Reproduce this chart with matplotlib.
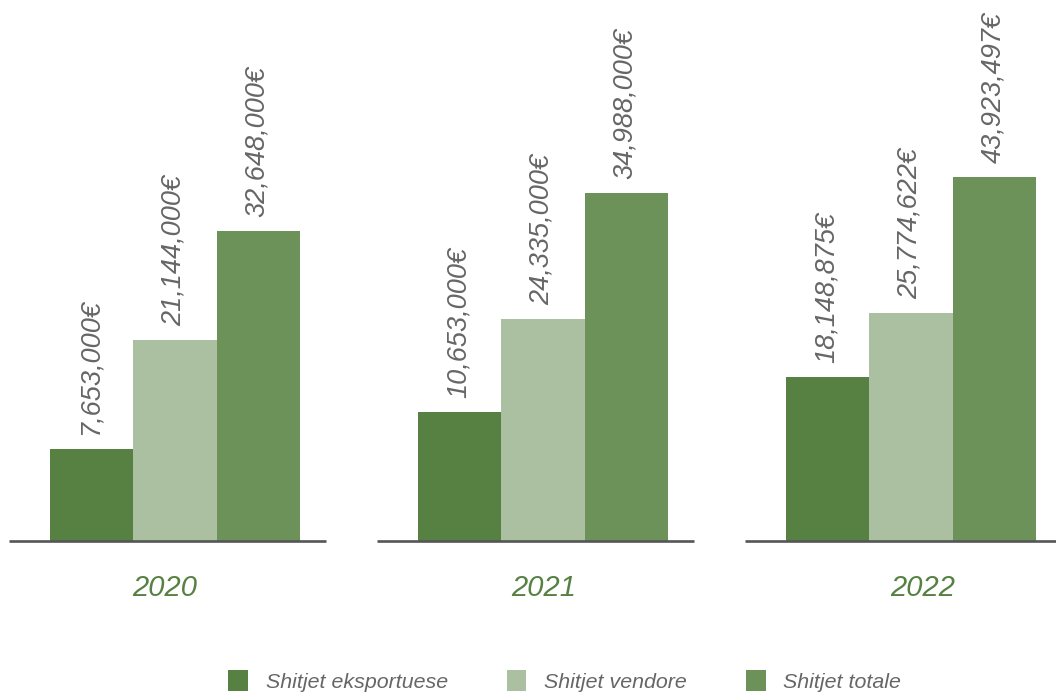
import matplotlib
matplotlib.use("Agg")
import matplotlib.pyplot as plt
from matplotlib.patches import Patch

plt.rcParams['font.family'] = ['Liberation Sans', 'DejaVu Sans']

years = ["2020", "2021", "2022"]
series = ["Shitjet eksportuese", "Shitjet vendore", "Shitjet totale"]
# values printed on the bars (EUR)
exports = [7653000, 10653000, 18148875]
domestic = [21144000, 24335000, 25774622]
totals = [32648000, 34988000, 43923497]
# bar heights as drawn in the picture (chart units)
exports_drawn = [9.2, 12.9, 16.4]
domestic_drawn = [20.1, 22.2, 22.8]
totals_drawn = [31.0, 34.8, 36.4]

colors = ["#568143", "#abc0a0", "#6d9259"]
text_gray = "#666666"

fig = plt.figure(figsize=(10.56, 6.93), dpi=100)
ax = fig.add_axes([0, 0, 1, 1])
ax.set_xlim(-175 / 368, (1056 - 175) / 368)
ax.set_ylim(-15.2, 54.1)
ax.axis("off")

w = 83.3 / 368
xs = list(range(len(years)))
drawn = [exports_drawn, domestic_drawn, totals_drawn]
vals = [exports, domestic, totals]
for i in range(3):
    pos = [x + (i - 1) * w for x in xs]
    bars = ax.bar(pos, drawn[i], width=w, color=colors[i], zorder=2)
    for b, v in zip(bars, vals[i]):
        ax.annotate(f"{v:,}€", (b.get_x() + b.get_width() / 2, b.get_height()),
                    xytext=(-1, 10), textcoords="offset points",
                    rotation=90, ha="center", va="bottom",
                    fontsize=19.5, style="italic", color=text_gray)

for x, yr in zip(xs, years):
    ax.hlines(0, x - 0.45, x + 0.41, color="#555555", lw=1.9, zorder=3)
    ax.text(x * 379 / 368 - 10.5 / 368, -4.7, yr, ha="center", va="center",
            fontsize=21, style="italic", color="#568143")

handles = [Patch(facecolor=c, edgecolor="none") for c in colors]
leg = fig.legend(handles, series, loc="center left",
                 bbox_to_anchor=(228 / 1056, 1 - 681 / 693), ncol=3,
                 frameon=False, borderpad=0, borderaxespad=0,
                 handlelength=0.93, handleheight=1.12, handletextpad=0.83,
                 columnspacing=2.75, prop={"size": 15.4, "style": "italic"})
for t in leg.get_texts():
    t.set_color(text_gray)

fig.savefig("out.png", dpi=100)
